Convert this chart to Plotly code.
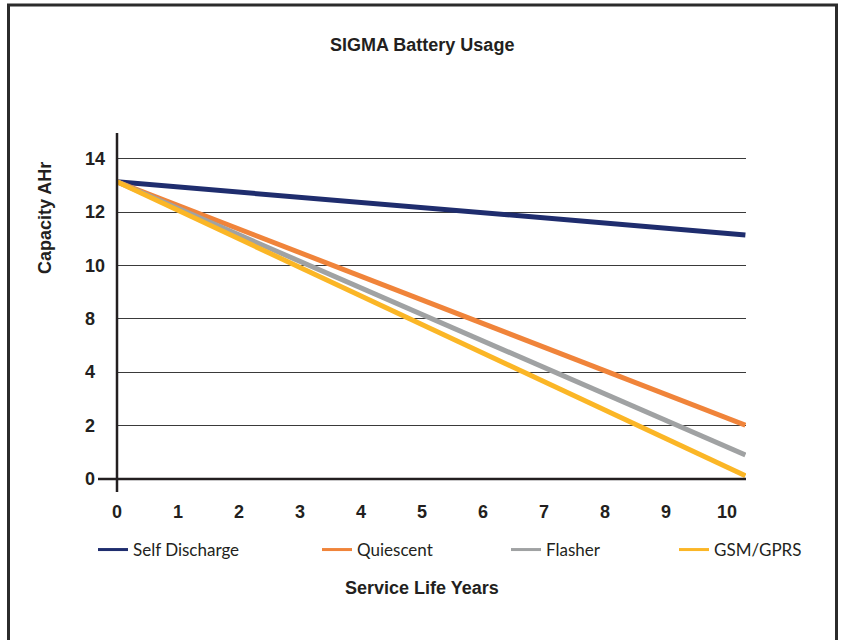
import plotly.graph_objects as go

# ---- data (y in plotted gridline units; tick labels as printed on the chart) ----
years = [0, 10.3]
self_discharge = [11.14, 9.15]
quiescent = [11.14, 2.02]
flasher = [11.14, 0.90]
gsm_gprs = [11.14, 0.12]

series_names = ["Self Discharge", "Quiescent", "Flasher", "GSM/GPRS"]
series_values = [self_discharge, quiescent, flasher, gsm_gprs]
series_colors = ["#1f2d6e", "#f0843a", "#a0a2a3", "#fbb626"]

y_tick_pos = [0, 2, 4, 6, 8, 10, 12]
y_tick_text = ["0", "2", "4", "8", "10", "12", "14"]
x_tick_vals = list(range(0, 11))

W, H = 843, 640
L, R, T, B = 117, 97, 133, 161
PW, PH = W - L - R, H - T - B

def px_x(px):
    return (px - L) / PW

def px_y(py):
    return (H - B - py) / PH

BOLD_FONT = "Liberation Sans, Arial, sans-serif"
LEG_FONT = "Lato, Open Sans, sans-serif"
INK = "#231f20"

fig = go.Figure()
for name, vals, col in zip(series_names, series_values, series_colors):
    fig.add_trace(go.Scatter(x=years, y=vals, mode="lines", name=name,
                             line=dict(color=col, width=5), showlegend=False,
                             hoverinfo="x+y+name"))

legend_x_px = [93, 317, 506, 674]
legend_ids = ["legend", "legend2", "legend3", "legend4"]
for name, col, lid in zip(series_names, series_colors, legend_ids):
    fig.add_trace(go.Scatter(x=[None], y=[None], mode="lines", name=name,
                             line=dict(color=col, width=3), legend=lid,
                             showlegend=True))

layout_legends = {}
for lid, lx in zip(legend_ids, legend_x_px):
    layout_legends[lid] = dict(x=px_x(lx), y=px_y(550), xanchor="left", yanchor="middle",
                               orientation="h", bgcolor="rgba(0,0,0,0)",
                               font=dict(family=LEG_FONT, size=17, color=INK),
                               itemclick=False, itemdoubleclick=False)

annotations = []
for pos, txt in zip(y_tick_pos, y_tick_text):
    annotations.append(dict(x=px_x(83), xref="paper", y=pos, yref="y", text=txt,
                            showarrow=False, xanchor="left", yanchor="middle",
                            font=dict(family=BOLD_FONT, size=18, color=INK, weight="bold")))
annotations.append(dict(x=px_x(422), y=px_y(33), xref="paper", yref="paper",
                        text="SIGMA Battery Usage", showarrow=False,
                        xanchor="center", yanchor="top",
                        font=dict(family=BOLD_FONT, size=18, color=INK, weight="bold")))
annotations.append(dict(x=px_x(45), y=px_y(218), xref="paper", yref="paper",
                        text="Capacity AHr", showarrow=False, textangle=-90,
                        xanchor="center", yanchor="middle",
                        font=dict(family=BOLD_FONT, size=18, color=INK, weight="bold")))
annotations.append(dict(x=px_x(422), y=px_y(588), xref="paper", yref="paper",
                        text="Service Life Years", showarrow=False,
                        xanchor="center", yanchor="middle",
                        font=dict(family=BOLD_FONT, size=18, color=INK, weight="bold")))

shapes = [
    # outer frame
    dict(type="rect", xref="paper", yref="paper", x0=px_x(8.5), x1=px_x(836.5),
         y0=px_y(700), y1=px_y(5), line=dict(color="#2b2b2b", width=3), layer="below"),
    # y axis line (extends below x axis)
    dict(type="line", xref="paper", yref="paper", x0=0, x1=0, y0=px_y(492), y1=1,
         line=dict(color=INK, width=2.5)),
    # x axis line (extends left of y axis)
    dict(type="line", xref="paper", yref="paper", x0=px_x(98), x1=1, y0=0, y1=0,
         line=dict(color=INK, width=2.5)),
]

fig.update_layout(
    width=W, height=H,
    margin=dict(l=L, r=R, t=T, b=B, autoexpand=False),
    paper_bgcolor="white", plot_bgcolor="white",
    showlegend=True,
    annotations=annotations,
    shapes=shapes,
    xaxis=dict(range=[0, 10.31], tickvals=x_tick_vals, showgrid=False, zeroline=False,
               showline=False, ticks="", ticklabelstandoff=20,
               tickfont=dict(family=BOLD_FONT, size=18, color=INK, weight="bold")),
    yaxis=dict(range=[0, 12.97], tickvals=y_tick_pos, showticklabels=False,
               showgrid=True, gridcolor="#3a3a3a", gridwidth=1.2, zeroline=False,
               showline=False, ticks=""),
    **layout_legends,
)

fig.write_html("out.html", config={"displayModeBar": False},
               post_script="document.body.style.margin='0';document.body.style.overflow='hidden';")
